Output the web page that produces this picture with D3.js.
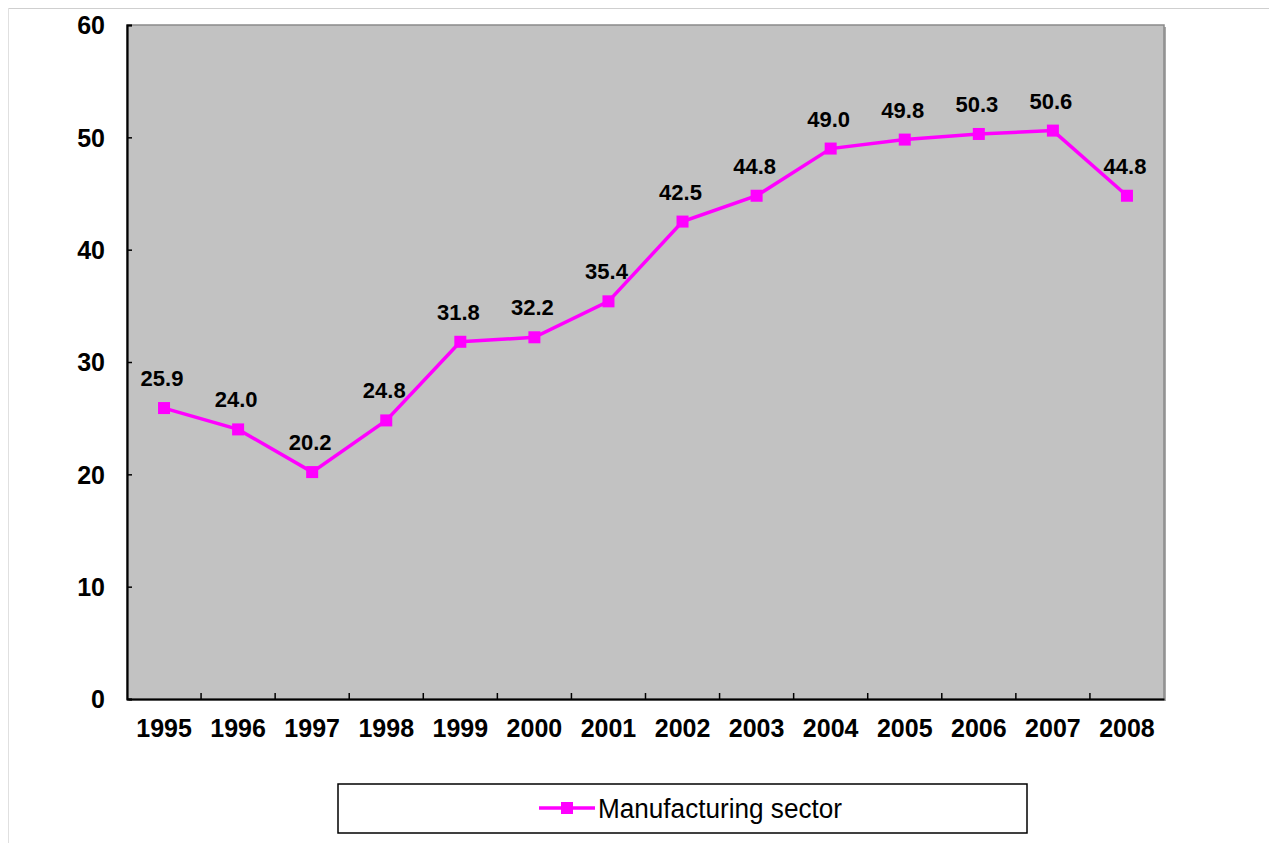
<!DOCTYPE html>
<html><head><meta charset="utf-8">
<script src="https://cdn.jsdelivr.net/npm/d3@7"></script>
<style>body{margin:0;background:#fff;}svg{display:block;font-family:Arial,"Liberation Sans",sans-serif;}</style>
</head><body>
<script>
const years = ["1995","1996","1997","1998","1999","2000","2001","2002","2003","2004","2005","2006","2007","2008"];
const values = [25.9,24.0,20.2,24.8,31.8,32.2,35.4,42.5,44.8,49.0,49.8,50.3,50.6,44.8];
const yTicks = [0,10,20,30,40,50,60];
const seriesName = "Manufacturing sector";

const W = 1269, H = 843;
const m = {l:127, t:25, r:1164, b:699};
const svg = d3.select("body").append("svg").attr("width",W).attr("height",H);

// outer frame
svg.append("line").attr("x1",8).attr("x2",W).attr("y1",8.5).attr("y2",8.5).attr("stroke","#cfcfcf").attr("stroke-width",1);
svg.append("line").attr("x1",8.5).attr("x2",8.5).attr("y1",8).attr("y2",H).attr("stroke","#e0e0e0").attr("stroke-width",1);

const x = d3.scaleBand().domain(years).range([m.l,m.r]).padding(0);
const y = d3.scaleLinear().domain([0,60]).range([m.b,m.t]);

// plot area
svg.append("rect").attr("x",m.l+2).attr("y",m.t+2).attr("width",m.r-m.l).attr("height",m.b-m.t).attr("fill","#a8a8a8");
svg.append("rect").attr("x",m.l).attr("y",m.t).attr("width",m.r-m.l).attr("height",m.b-m.t).attr("fill","#c2c2c2").attr("stroke","#8a8a8a").attr("stroke-width",1.5);

// y axis
const yAxis = d3.axisLeft(y).tickValues(yTicks).tickSize(-5).tickPadding(22).tickFormat(d3.format("d"));
const gy = svg.append("g").attr("transform",`translate(${m.l},0)`).call(yAxis);
gy.select(".domain").attr("stroke","#000").attr("stroke-width",2.2);
gy.selectAll(".tick line").attr("stroke","#000").attr("stroke-width",1.5);
gy.selectAll(".tick text").attr("font-size",25).attr("font-weight","bold").attr("fill","#000").attr("dy","0.35em");

// x axis
const xAxis = d3.axisBottom(x).tickSize(0).tickPadding(20);
const gx = svg.append("g").attr("transform",`translate(0,${m.b})`).call(xAxis);
gx.select(".domain").attr("stroke","#000").attr("stroke-width",2.2);
gx.selectAll(".tick text").attr("font-size",25).attr("font-weight","bold").attr("fill","#000");
// boundary ticks
svg.append("g").selectAll("line").data(years.slice(1)).join("line")
  .attr("x1",d=>x(d)).attr("x2",d=>x(d)).attr("y1",m.b).attr("y2",m.b-6)
  .attr("stroke","#000").attr("stroke-width",1.5);

// line
const line = d3.line().x((d,i)=>x(years[i])+x.bandwidth()/2).y(d=>y(d));
svg.append("path").datum(values).attr("d",line).attr("fill","none").attr("stroke","#ff00ff").attr("stroke-width",3.5);
svg.append("g").selectAll("rect").data(values).join("rect")
  .attr("x",(d,i)=>x(years[i])+x.bandwidth()/2-6).attr("y",d=>y(d)-6)
  .attr("width",12).attr("height",12).attr("fill","#ff00ff");
svg.append("g").selectAll("text").data(values).join("text")
  .attr("x",(d,i)=>x(years[i])+x.bandwidth()/2-2).attr("y",d=>y(d)-22)
  .attr("text-anchor","middle").attr("font-size",22).attr("font-weight","bold").attr("fill","#000")
  .text(d=>d.toFixed(1));

// legend
const lg = svg.append("g");
lg.append("rect").attr("x",338).attr("y",784).attr("width",689).attr("height",49).attr("fill","#fff").attr("stroke","#000").attr("stroke-width",1.5);
lg.append("line").attr("x1",539).attr("x2",595).attr("y1",808).attr("y2",808).attr("stroke","#ff00ff").attr("stroke-width",3.5);
lg.append("rect").attr("x",561).attr("y",802).attr("width",12).attr("height",12).attr("fill","#ff00ff");
lg.append("text").attr("x",598).attr("y",818).attr("font-size",27).attr("textLength",244).attr("lengthAdjust","spacingAndGlyphs").attr("fill","#000").text(seriesName);
</script>
</body></html>
